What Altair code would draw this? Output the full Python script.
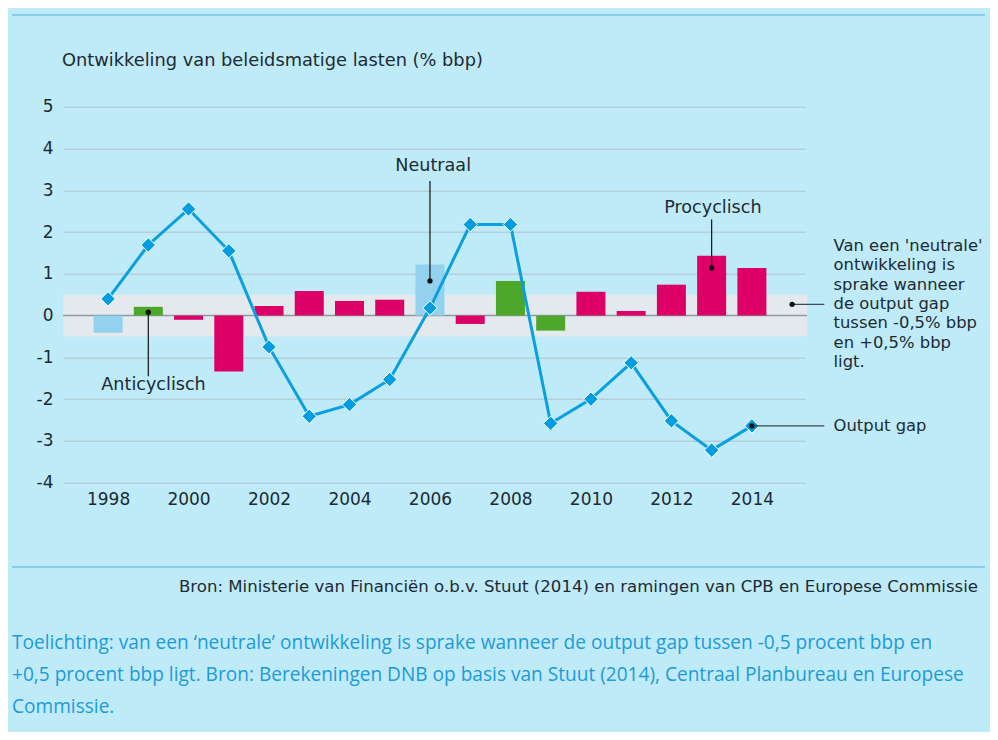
import altair as alt
import pandas as pd

# ---------------- data ----------------
years = list(range(1998, 2015))
beleid = [-0.41, 0.21, -0.10, -1.34, 0.23, 0.59, 0.35, 0.38, 1.22,
          -0.20, 0.83, -0.36, 0.57, 0.11, 0.74, 1.43, 1.14]
categorie = ["Neutraal", "Anticyclisch", "Procyclisch", "Procyclisch", "Procyclisch",
             "Procyclisch", "Procyclisch", "Procyclisch", "Neutraal", "Procyclisch",
             "Anticyclisch", "Anticyclisch", "Procyclisch", "Procyclisch", "Procyclisch",
             "Procyclisch", "Procyclisch"]
output_gap = [0.40, 1.69, 2.55, 1.55, -0.75, -2.41, -2.13, -1.53, 0.18,
              2.18, 2.18, -2.58, -2.00, -1.13, -2.52, -3.22, -2.64]

cat_domain = ["Procyclisch", "Anticyclisch", "Neutraal"]
cat_colors = ["#dc0067", "#4ca72b", "#92d2ef"]

y_ticks = [-4, -3, -2, -1, 0, 1, 2, 3, 4, 5]
x_ticks = [1998, 2000, 2002, 2004, 2006, 2008, 2010, 2012, 2014]

# annotations (data coordinates)
ann_labels = ["Neutraal", "Procyclisch", "Anticyclisch"]
ann_label_x = [2006.08, 2013.03, 1999.13]
ann_label_y = [3.59, 2.58, -1.66]
ann_line_from = [3.22, 2.30, -1.45]
ann_dot_x = [2006, 2013, 1999]
ann_dot_y = [0.83, 1.14, 0.08]

side_dot_x = [2015.0, 2014]
side_dot_y = [0.27, -2.64]
side_text_y = [1.673, -2.64]
side_line_end = [2015.8, 2015.8]
side_text_x = 2016.03
side_texts = ["Van een 'neutrale'\nontwikkeling is\nsprake wanneer\nde output gap\ntussen -0,5% bbp\nen +0,5% bbp\nligt.",
              "Output gap"]

band_lo, band_hi = -0.5, 0.5

title_text = "Ontwikkeling van beleidsmatige lasten (% bbp)"
bron_text = "Bron: Ministerie van Financiën o.b.v. Stuut (2014) en ramingen van CPB en Europese Commissie"
toelichting_text = ("Toelichting: van een \u2018neutrale\u2019 ontwikkeling is sprake wanneer de output gap tussen -0,5 procent bbp en\n"
                    "+0,5 procent bbp ligt. Bron: Berekeningen DNB op basis van Stuut (2014), Centraal Planbureau en Europese\n"
                    "Commissie.")

# ---------------- frames ----------------
df = pd.DataFrame({"jaar": years, "lasten": beleid, "cat": categorie, "gap": output_gap})
band_df = pd.DataFrame({"lo": [band_lo], "hi": [band_hi]})
zero_df = pd.DataFrame({"z": [0]})
ann_df = pd.DataFrame({"label": ann_labels, "lx": ann_label_x, "ly": ann_label_y,
                       "l1": ann_line_from, "dx": ann_dot_x, "dy": ann_dot_y})
side_df = pd.DataFrame({"dx": side_dot_x, "dy": side_dot_y, "ty": side_text_y,
                        "ex": side_line_end, "tx": [side_text_x] * 2, "txt": side_texts})
one = pd.DataFrame({"a": [0]})

W, H = 742, 376
TXT = "#1b2a33"
FONT = "DejaVu Sans"

xs = alt.Scale(domain=[1996.88, 2015.32], nice=False, zero=False, padding=0)
ys = alt.Scale(domain=[-4, 5], nice=False, zero=False)

band = alt.Chart(band_df).mark_rect(color="#e3e9ec").encode(
    y=alt.Y("lo:Q", scale=ys, title=None,
            axis=alt.Axis(values=y_ticks, grid=True, gridColor="#b5cfd9", gridWidth=1.5,
                          domain=False, ticks=False, labelFontSize=17, labelColor=TXT,
                          labelFont=FONT, labelPadding=10,
                          labelExpr="'' + datum.value")),
    y2="hi:Q",
    x=alt.value(0), x2=alt.value(W + 2),
)

zero = alt.Chart(zero_df).mark_rule(color="#8d9ca4", strokeWidth=1.5).encode(
    y=alt.Y("z:Q", scale=ys, title=None), x=alt.value(0), x2=alt.value(W + 2))

bars = alt.Chart(df).mark_bar(size=29).encode(
    x=alt.X("jaar:Q", scale=xs, title=None,
            axis=alt.Axis(values=x_ticks, format="d", grid=False, domain=False, ticks=False,
                          labelFontSize=17, labelColor=TXT, labelFont=FONT, labelPadding=9)),
    y=alt.Y("lasten:Q", scale=ys, title=None),
    y2=alt.datum(0),
    color=alt.Color("cat:N", scale=alt.Scale(domain=cat_domain, range=cat_colors), legend=None),
)

line = alt.Chart(df).mark_line(color="#0a9fdf", strokeWidth=3).encode(
    x=alt.X("jaar:Q", scale=xs, title=None), y=alt.Y("gap:Q", scale=ys, title=None))

points = alt.Chart(df).mark_point(shape="diamond", filled=True, size=210, fill="#009ee0",
                                  stroke="white", strokeWidth=1, opacity=1).encode(
    x=alt.X("jaar:Q", scale=xs, title=None), y=alt.Y("gap:Q", scale=ys, title=None))

ann_lines = alt.Chart(ann_df).mark_rule(color="#111", strokeWidth=1.2).encode(
    x=alt.X("dx:Q", scale=xs, title=None), y=alt.Y("l1:Q", scale=ys, title=None), y2="dy:Q")
ann_dots = alt.Chart(ann_df).mark_circle(color="#111", size=28, opacity=1).encode(
    x=alt.X("dx:Q", scale=xs, title=None), y=alt.Y("dy:Q", scale=ys, title=None))
ann_text = alt.Chart(ann_df).mark_text(fontSize=17.6, font=FONT, color=TXT, baseline="middle",
                                       align="center").encode(
    x=alt.X("lx:Q", scale=xs, title=None), y=alt.Y("ly:Q", scale=ys, title=None), text="label:N")

side_lines = alt.Chart(side_df).mark_rule(color="#3a4850", strokeWidth=1.2).encode(
    x=alt.X("dx:Q", scale=xs, title=None), x2="ex:Q", y=alt.Y("dy:Q", scale=ys, title=None))
side_dots = alt.Chart(side_df).mark_circle(color="#111", size=28, opacity=1).encode(
    x=alt.X("dx:Q", scale=xs, title=None), y=alt.Y("dy:Q", scale=ys, title=None))
side_text = alt.Chart(side_df).mark_text(fontSize=16.4, font=FONT, color=TXT, baseline="middle",
                                         align="left", lineBreak="\n", lineHeight=19.45).encode(
    x=alt.X("tx:Q", scale=xs, title=None), y=alt.Y("ty:Q", scale=ys, title=None), text="txt:N")

title = alt.Chart(one).mark_text(fontSize=17.8, font=FONT, color=TXT, align="left",
                                 baseline="middle", text=title_text).encode(
    x=alt.value(-1), y=alt.value(-45.7))

top_rule = alt.Chart(one).mark_rule(color="#4db3dc", strokeWidth=1).encode(
    x=alt.value(-51), x2=alt.value(922), y=alt.value(-91.7))
bot_rule = alt.Chart(one).mark_rule(color="#4db3dc", strokeWidth=1).encode(
    x=alt.value(-51), x2=alt.value(922), y=alt.value(460.3))

bron = alt.Chart(one).mark_text(fontSize=16.6, font=FONT, color=TXT, align="right",
                                baseline="middle", text=bron_text).encode(
    x=alt.value(915), y=alt.value(480.3))

toel = alt.Chart(one).mark_text(fontSize=19.1, font="Open Sans", color="#1d9ad8", align="left",
                                baseline="middle", lineBreak="\n", lineHeight=32,
                                text=toelichting_text).encode(
    x=alt.value(-51), y=alt.value(536.3))

chart = alt.layer(
    band, zero, bars, line, points, ann_lines, ann_dots, ann_text,
    side_lines, side_dots, side_text, title, top_rule, bot_rule, bron, toel
).properties(
    width=W, height=H,
    autosize=alt.AutoSizeParams(type="none"),
    padding={"left": 55, "top": 98.7, "right": 185, "bottom": 249},
    background="#bfebf8",
).configure_view(stroke=None)

chart.save("out.html", embed_options={"renderer": "svg", "actions": False})
